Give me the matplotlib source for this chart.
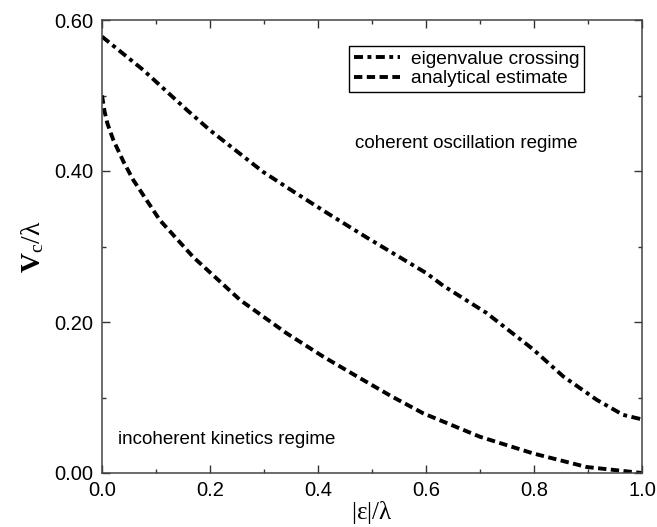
import matplotlib
matplotlib.use("Agg")
import matplotlib.pyplot as plt
import numpy as np

plt.rcParams['font.family'] = ['Liberation Sans', 'DejaVu Sans']
plt.rcParams['mathtext.fontset'] = 'custom'
plt.rcParams['mathtext.rm'] = 'Liberation Serif'
plt.rcParams['mathtext.it'] = 'Liberation Serif'
plt.rcParams['mathtext.bf'] = 'Liberation Serif:bold'
plt.rcParams['lines.scale_dashes'] = False

# eigenvalue crossing (dash-dot)
x_eig = [0.0, 0.076, 0.157, 0.2, 0.298, 0.354, 0.42, 0.49, 0.6, 0.632, 0.712, 0.798, 0.854, 0.916, 0.965, 1.0]
y_eig = [0.578, 0.534, 0.481, 0.454, 0.399, 0.373, 0.343, 0.312, 0.265, 0.248, 0.212, 0.164, 0.128, 0.097, 0.077, 0.071]

# analytical estimate (dashed)
x_ana = [0.0, 0.005, 0.01, 0.021, 0.04, 0.058, 0.107, 0.169, 0.256, 0.342, 0.41, 0.472, 0.535, 0.595, 0.7, 0.798, 0.897, 1.0]
y_ana = [0.500, 0.478, 0.463, 0.441, 0.412, 0.388, 0.335, 0.286, 0.229, 0.185, 0.154, 0.128, 0.102, 0.079, 0.048, 0.026, 0.008, 0.0]

labels = ["eigenvalue crossing", "analytical estimate"]
x_ticks = [0.0, 0.2, 0.4, 0.6, 0.8, 1.0]
x_ticklabels = ["0.0", "0.2", "0.4", "0.6", "0.8", "1.0"]
y_ticks = [0.0, 0.2, 0.4, 0.6]
y_ticklabels = ["0.00", "0.20", "0.40", "0.60"]

fig = plt.figure(figsize=(6.57, 5.27), dpi=100)
ax = fig.add_axes([102/657, 54/527, 540/657, 453/527])

ax.plot(x_eig, y_eig, color='black', lw=2.8, linestyle=(0, (6.5, 3.2, 2.8, 3.2)),
        label=labels[0])
ax.plot(x_ana, y_ana, color='black', lw=2.8, linestyle=(0, (6.0, 3.2)),
        label=labels[1])

ax.set_xlim(0, 1.0)
ax.set_ylim(0, 0.6)
ax.set_xticks(x_ticks)
ax.set_xticklabels(x_ticklabels)
ax.set_yticks(y_ticks)
ax.set_yticklabels(y_ticklabels)
ax.set_xticks(np.arange(0.1, 1.0, 0.2), minor=True)
ax.set_yticks([0.1, 0.3, 0.5], minor=True)
ax.tick_params(which='both', direction='in', top=True, right=True, labelsize=14.5,
               color='#333333', width=1)
ax.tick_params(which='major', length=5.5)
ax.tick_params(axis='x', which='major', pad=6)
ax.tick_params(axis='y', which='major', pad=6)
ax.tick_params(which='minor', length=3)
for s in ax.spines.values():
    s.set_color('#444444')
    s.set_linewidth(1.1)

ax.set_xlabel(r'$|\varepsilon|/\lambda$', fontsize=18, labelpad=-1)
ax.set_ylabel(r'$\mathbf{V}_{c}/\lambda$', fontsize=20, labelpad=6)

ax.text(0.468, 0.437, "coherent oscillation regime", fontsize=13.5, va='center', ha='left')
ax.text(0.03, 0.044, "incoherent kinetics regime", fontsize=13.5, va='center', ha='left')

leg = ax.legend(loc='upper left', bbox_to_anchor=(0.457, 0.943), fontsize=13.8,
                frameon=True, fancybox=False, edgecolor='black', framealpha=1,
                handlelength=2.4, handletextpad=0.6, borderpad=0.25, labelspacing=0.1,
                borderaxespad=0)
leg.get_frame().set_linewidth(1.0)

fig.savefig("out.png", dpi=100)
